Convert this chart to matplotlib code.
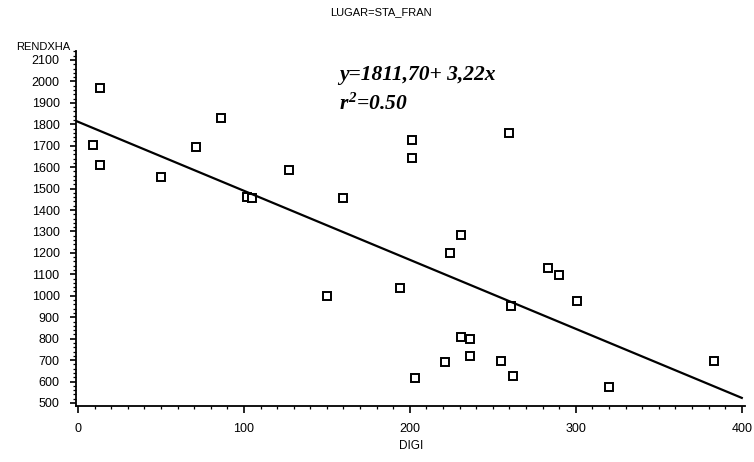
import numpy as np
import matplotlib
matplotlib.use("Agg")
import matplotlib.pyplot as plt
from matplotlib.ticker import MultipleLocator

# Datos
digi = [13, 9, 13, 50, 71, 86, 102, 105, 127, 201, 201, 160, 260, 231, 224,
        283, 290, 301, 261, 194, 150, 231, 236, 236, 221, 255, 262, 203, 320, 383]
rendxha = [1970, 1705, 1612, 1555, 1695, 1830, 1460, 1458, 1585, 1728, 1642,
           1455, 1760, 1283, 1200, 1128, 1098, 977, 952, 1038, 1000, 806, 800,
           717, 693, 695, 625, 615, 575, 697]
intercepto = 1811.70
pendiente = -3.22
x_ticks = [0, 100, 200, 300, 400]
y_ticks = list(range(500, 2101, 100))

plt.rcParams["font.family"] = ["Liberation Sans", "DejaVu Sans"]
plt.rcParams["mathtext.fontset"] = "custom"
plt.rcParams["mathtext.it"] = "Liberation Serif:bold:italic"
plt.rcParams["mathtext.rm"] = "Liberation Serif:bold:italic"

fig = plt.figure(figsize=(7.54, 4.62), dpi=100)
ax = fig.add_axes([0.1012, 0.1208, 0.887, 0.768])

ax.plot(digi, rendxha, linestyle="none", marker="s", markersize=6,
        markerfacecolor="white", markeredgecolor="black", markeredgewidth=1.4)

# recta de regresión
xl = np.array([-2, 400])
ax.plot(xl, intercepto + pendiente * xl, color="black", linewidth=1.6)

ax.set_xlim(-1, 402)
ax.set_ylim(485, 2140)
ax.set_xticks(x_ticks)
ax.set_yticks(y_ticks)
ax.xaxis.set_minor_locator(MultipleLocator(10))
ax.yaxis.set_minor_locator(MultipleLocator(20))

for s in ["top", "right"]:
    ax.spines[s].set_visible(False)
for s in ["left", "bottom"]:
    ax.spines[s].set_linewidth(1.3)

ax.tick_params(which="major", direction="out", length=4, width=1.2,
               labelsize=9, pad=8)
ax.tick_params(which="minor", direction="out", length=2, width=0.9)
ax.tick_params(axis="x", which="major", length=5, pad=7)

ax.set_xlabel("DIGI", fontsize=8.5, labelpad=4)
fig.text(0.093, 0.898, "RENDXHA", fontsize=8, ha="right", va="center")
fig.text(0.505, 0.974, "LUGAR=STA_FRAN", fontsize=8, ha="center", va="center")

ax.text(0.393, 0.92, "y=1811,70+ 3,22x", transform=ax.transAxes,
        family="Liberation Serif", weight="bold", style="italic", fontsize=15.5,
        va="baseline")
ax.text(0.393, 0.835, "$r^2$=0.50", transform=ax.transAxes,
        family="Liberation Serif", weight="bold", style="italic", fontsize=15.5,
        va="baseline")

fig.savefig("out.png", dpi=100)
